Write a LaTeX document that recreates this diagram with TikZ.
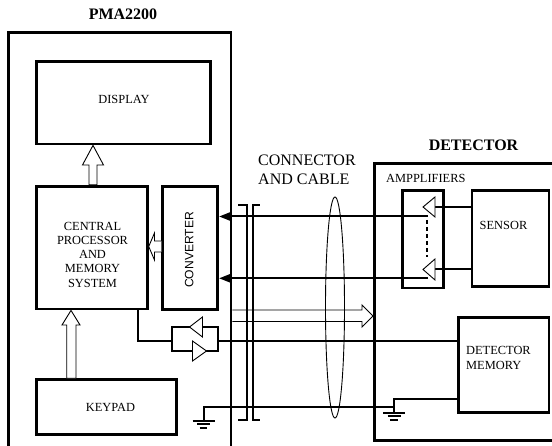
\documentclass[tikz,border=0pt]{standalone}
\usepackage{fontspec}
\setmainfont{Liberation Serif}
\newfontfamily\convfont{Liberation Sans}
\usetikzlibrary{arrows.meta}
\begin{document}
\begin{tikzpicture}[x=1pt,y=-1pt,
  box/.style={draw, line width=2.8pt, inner sep=0pt, rectangle},
  wire/.style={line width=2pt},
  thinline/.style={line width=0.9pt},
  hollow/.style={line width=0.9pt, fill=white, line join=miter},
  barline/.style={line width=2.4pt},
  lbl/.style={inner sep=0pt, font=\fontsize{12.4}{14.25}\selectfont},
  ttl/.style={inner sep=0pt, font=\fontsize{16}{19}\selectfont\bfseries},
  big/.style={inner sep=0pt, font=\fontsize{16}{19.5}\selectfont},
  tip/.style={-{Triangle[length=11pt,width=8pt]}},
]
\useasboundingbox (0,0) rectangle (552,446);
\clip (0,0) rectangle (552,446);

% outer boxes
\node[box, minimum width=222.7pt, minimum height=437.3pt] (pma) at (119.65,251.35) {};
\node[box, minimum width=205.7pt, minimum height=277pt] (det) at (477.15,301.8) {};

% inner boxes
\node[box, minimum width=173.8pt, minimum height=82.5pt] (display) at (123.4,102.75) {};
\node[box, minimum width=110.8pt, minimum height=122.7pt] (cpu) at (91.9,247.65) {};
\node[box, minimum width=55pt, minimum height=123pt] (conv) at (190.2,247.8) {};
\node[box, minimum width=139.8pt, minimum height=54.6pt] (keypad) at (106.4,407) {};
\node[box, minimum width=41.4pt, minimum height=97.3pt] (ampbox) at (423,239.35) {};
\node[box, minimum width=77pt, minimum height=95.6pt] (sensor) at (510.5,238.5) {};
\node[box, minimum width=90.7pt, minimum height=95.4pt] (detmem) at (503.65,365) {};

% labels
\node[ttl] (pmatitle) at (123,14.5) {PMA2200};
\node[ttl] (dettitle) at (473.5,145) {DETECTOR};
\node[lbl] (displaytext) at (124,99) {DISPLAY};
\node[lbl, align=center] (cputext) at (92.5,254.5) {CENTRAL\\PROCESSOR\\AND\\MEMORY\\SYSTEM};
\node[lbl] (keypadtext) at (110.5,407) {KEYPAD};
\node[lbl] (sensortext) at (503.5,225) {SENSOR};
\node[lbl, align=left, anchor=west] (detmemtext) at (466,358) {DETECTOR\\MEMORY};
\node[lbl, anchor=west] (amptext) at (386,178.5) {AMPPLIFIERS};
\node[big, align=left, anchor=west] (cabletext) at (258,170) {CONNECTOR\\AND CABLE};
\node[inner sep=0pt, rotate=90, font=\convfont\fontsize{12.1}{14}\selectfont] (convtext) at (189.3,250) {CONVERTER};

% hollow arrows (buses)
\draw[hollow] (93,145.4) -- (103.5,165) -- (97,165) -- (97,184.9) -- (89,184.9) -- (89,165) -- (82.5,165) -- cycle;
\draw[hollow] (71,310.4) -- (80,325) -- (76,325) -- (76,378.3) -- (66.7,378.3) -- (66.7,325) -- (62,325) -- cycle;
\draw[hollow] (161.3,241) -- (154.5,241) -- (154.5,233) -- (148.7,246.5) -- (154.5,260) -- (154.5,252) -- (161.3,252);
\draw[hollow] (232.4,310) -- (362,310) -- (362,305) -- (373,316) -- (362,327) -- (362,321.5) -- (232.4,321.5);

% amplifier outputs into converter
\coordinate (ampout1) at (428,216.5);
\coordinate (ampout2) at (428,278.3);
\draw[wire, tip] (ampout1) -- (conv.east |- ampout1);
\draw[wire, tip] (ampout2) -- (conv.east |- ampout2);
\draw[line width=2pt, dash pattern=on 4pt off 3pt] (427,220) -- (427,257);

% amplifier triangles
\coordinate (amp1) at (435,207);
\coordinate (amp2) at (435,269.5);
\draw[wire] (sensor.west |- amp1) -- (amp1);
\draw[wire] (sensor.west |- amp2) -- (amp2);
\draw[hollow] (amp1) ++(0,-10) -- ++(0,20) -- ++(-12,-10) -- cycle;
\draw[hollow] (amp2) ++(0,-10.5) -- ++(0,21) -- ++(-12,-10.5) -- cycle;

% bidirectional buffer
\coordinate (bufL) at (172,341);
\coordinate (bufR) at (218,341);
\draw[wire] (cpu.south -| 138,0) |- (bufL);
\draw[wire] (172,327) rectangle (218,351);
\draw[wire] (bufR) -- (detmem.west |- bufR);
\draw[hollow] (189.5,327) -- (202.5,317) -- (202.5,337) -- cycle;
\draw[hollow] (206.5,351) -- (192.5,341) -- (192.5,361) -- cycle;

% grounds
\coordinate (gndA) at (203.5,421);
\coordinate (gndB) at (394,413);
\draw[wire] (gndA) -- (gndA |- 0,407) -- (gndB |- 0,407);
\draw[wire] (detmem.west |- 0,399) -- (gndB |- 0,399) -- (gndB);
\foreach \g in {gndA,gndB}{
  \draw[wire] (\g) ++(-11,0) -- ++(22,0);
  \draw[wire] (\g) ++(-6.5,3.3) -- ++(13,0);
  \draw[wire] (\g) ++(-3.8,6.6) -- ++(7.6,0);
}

% cable
\draw[thinline] (335,307.5) ellipse [x radius=9.5pt, y radius=110.5pt];

% connector bars
\draw[barline] (238,205) -- (247,205) -- (247,420) -- (238,420);
\draw[barline] (259.5,205) -- (253,205) -- (253,420) -- (259.5,420);
\end{tikzpicture}
\end{document}
